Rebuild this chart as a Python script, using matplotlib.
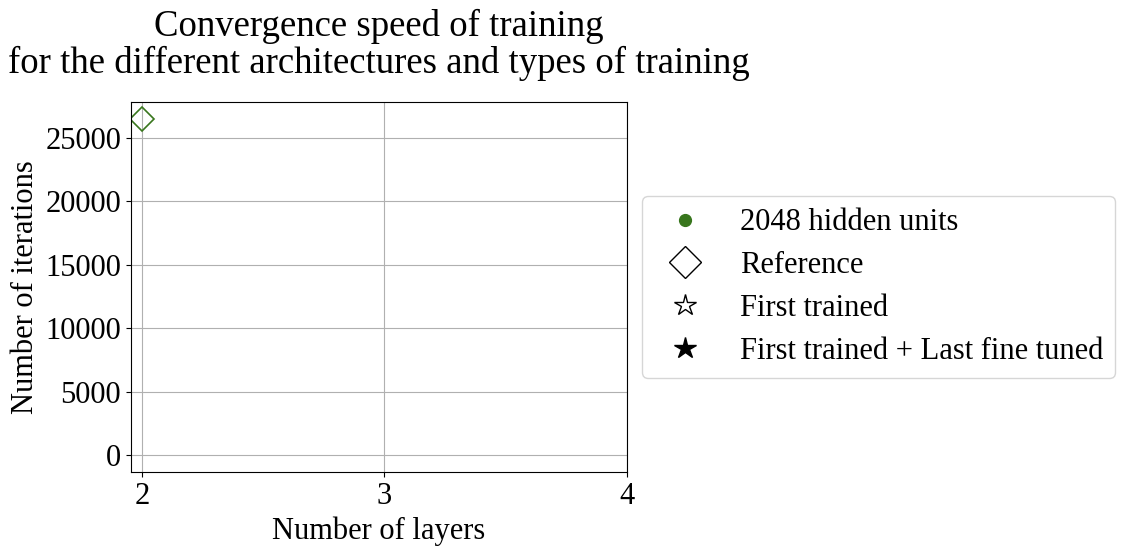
import matplotlib.pyplot as plt
from matplotlib.lines import Line2D

plt.rcParams['font.family'] = ['Liberation Serif', 'DejaVu Serif']
plt.rcParams['font.size'] = 22

# data
layers = [2]
iterations = [26500]
green = '#38761d'

fig = plt.figure(figsize=(11.26, 5.51), dpi=100)
ax = fig.add_axes([0.1163, 0.1434, 0.4405, 0.6715])

ax.plot(layers, iterations, linestyle='none', marker='D', markersize=12.5,
        markerfacecolor='none', markeredgecolor=green, markeredgewidth=1.2)

ax.set_xlim(1.955, 4)
ax.set_ylim(-1325, 27825)
ax.set_xticks([2, 3, 4])
ax.set_yticks([0, 5000, 10000, 15000, 20000, 25000])
ax.grid(True, color='#b0b0b0', linewidth=0.8)
ax.set_xlabel('Number of layers')
ax.set_ylabel('Number of iterations')
ax.set_title('Convergence speed of training\nfor the different architectures and types of training',
             fontsize=26.5, pad=21, linespacing=1.05)

handles = [
    Line2D([], [], linestyle='none', marker='o', markersize=8.5, color=green),
    Line2D([], [], linestyle='none', marker='D', markersize=16,
           markerfacecolor='none', markeredgecolor='black', markeredgewidth=1.0),
    Line2D([], [], linestyle='none', marker='*', markersize=16,
           markerfacecolor='none', markeredgecolor='black', markeredgewidth=1.0),
    Line2D([], [], linestyle='none', marker='*', markersize=16, color='black'),
]
labels = ['2048 hidden units', 'Reference', 'First trained', 'First trained + Last fine tuned']
ax.legend(handles, labels, loc='center left', bbox_to_anchor=(1.03, 0.5),
          borderaxespad=0, fontsize=22, handletextpad=0.8, borderpad=0.4,
          labelspacing=0.45)

fig.savefig('out.png', dpi=100)
